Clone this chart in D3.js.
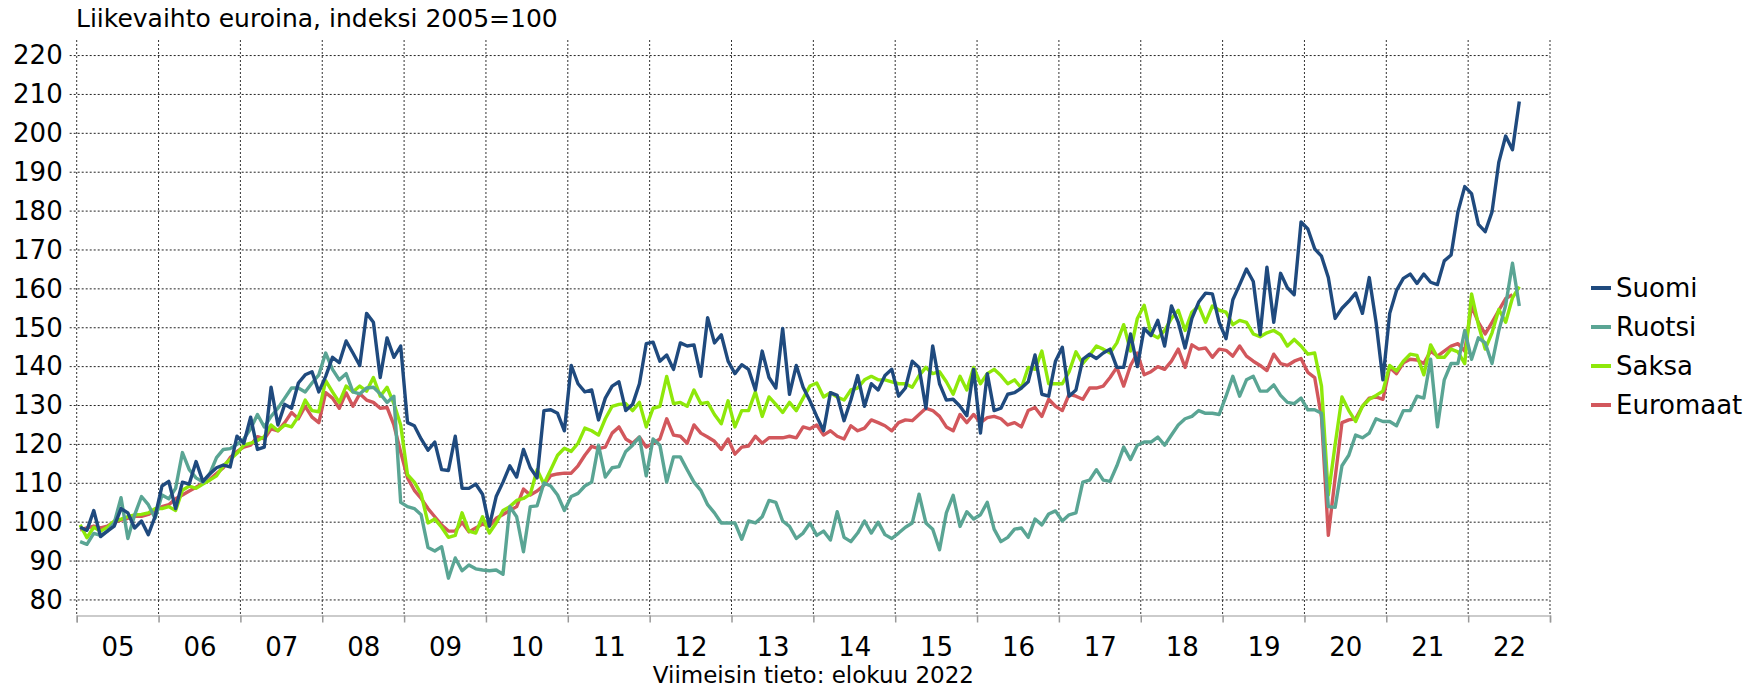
<!DOCTYPE html>
<html>
<head>
<meta charset="utf-8">
<script src="https://cdn.jsdelivr.net/npm/d3@7"></script>
<style>
    body { margin: 0; background: #fff; }
    svg text { font-family: "DejaVu Sans", Verdana, sans-serif; fill: #000; }
</style>
</head>
<body>
<svg id="chart" width="1754" height="688"></svg>
<script>
    // Monthly index values, Jan 2005 onwards (one row per year)
    var yearLabels = ["05","06","07","08","09","10","11","12","13","14","15","16","17","18","19","20","21","22"];
    var yTicks = [80,90,100,110,120,130,140,150,160,170,180,190,200,210,220];
    var seriesNames = ["Suomi","Ruotsi","Saksa","Euromaat"];

    var suomi = [
        98.7,97.9,103,96.3,97.7,99,103.5,102.4,98.5,100.3,96.8,101.5,
        109.3,110.5,103.5,110.3,109.8,115.6,110.5,112.4,114,114.7,114.2,122.1,
        120.3,127,118.7,119.3,134.7,125,130.3,129.3,135.8,137.9,138.7,133.5,
        137.5,142.4,141,146.6,143.5,140.3,153.7,151.4,137.2,147.4,142.4,145.3,
        125.6,124.8,121.4,118.5,120.6,113.5,113.3,122.1,108.7,108.7,109.8,107.2,
        99,106.6,110.3,114.5,111.6,118.7,114,111.4,128.7,128.9,128,123.5,
        140.3,135.6,133.5,134,126.3,131.9,135,136.1,128.7,130.3,135.6,145.9,
        146.3,141.4,143,139.3,146.1,145.3,145.6,137.5,152.6,146.1,148.2,141.4,
        138.2,140.5,139.3,134,144,137.2,134.5,149.8,132.9,140.3,134.7,131.2,
        127.2,123.5,133.3,132.6,126.1,131.4,137.7,129.8,135.6,134,137.7,139.3,
        132.4,134.5,141.4,139.8,129.3,145.3,135.6,131.4,131.6,129.8,127.4,139.3,
        122.9,138.2,128.7,129.3,132.9,133.3,134.5,136.1,143,132.9,132.4,141.4,
        145,132.4,134,141.9,143.2,142.1,143.5,144.5,139.8,139.8,148.4,140,
        149.8,148,151.9,145.3,155.6,151.4,144.8,152.4,156.6,158.9,158.7,151.4,
        147.2,157.2,161.1,165.1,161.9,148.2,165.6,151.4,164,160.3,158.5,177.2,
        175.4,170.3,168.4,162.9,152.4,155,156.8,158.9,153.7,162.9,151.4,136.6,
        153.7,159.6,162.7,163.8,161.4,163.8,161.7,161.1,167.2,168.7,179.8,186.3,
        184.5,176.6,174.7,179.8,192.6,199.3,195.8,208.2
    ];
    var ruotsi = [
        95,94.3,97.1,96.6,97.7,99.8,106.3,95.8,101.9,106.6,104.5,101,
        107,106,108.7,117.9,113.5,111.4,110.3,112.4,116.6,118.7,118.9,120,
        121.4,124,127.7,124.5,127.2,129.3,131.9,134.5,134.5,133.5,135.8,137.9,
        143.5,139.3,136.6,138.2,133.5,133,134.5,134.7,133,130.8,132.4,105.1,
        104,103.5,101.9,93.5,92.6,93.7,85.6,90.8,87.5,89,88,87.7,
        87.5,87.7,86.6,104,101.4,92.4,104,104.2,110.1,109.3,107,103,
        106.6,107.4,109.3,110.3,119.8,111.6,114,114.3,118.2,119.8,121.9,111.9,
        121.4,119.8,110.3,116.8,116.8,113.5,110.3,108.2,104.5,102.4,99.8,99.8,
        99.8,95.6,100.3,99.8,101.4,105.6,105.1,100.3,98.9,95.8,97.2,99.8,
        96.6,97.7,95.4,102.7,96.1,95,97.2,100.3,97.2,100,96.8,95.8,
        97.2,98.7,99.8,107.2,99.8,98.2,92.9,102.4,106.9,98.9,102.7,100.8,
        101.9,105.1,98.2,95,96.1,98.2,98.5,96.1,100.8,99.3,102.1,102.9,
        100.3,101.9,102.4,110.3,110.8,113.5,110.8,110.5,114.5,119.3,116.1,119.8,
        120.6,120.6,121.9,119.8,122.4,125,126.6,127.2,128.7,128,128,127.7,
        132.4,137.5,132.4,136.6,137.5,133.7,133.7,135.3,132.6,130.8,130.5,131.9,
        128.9,128.9,128,104,103.8,114.5,117.2,122.4,121.7,122.9,126.6,125.9,
        125.9,124.8,128.7,128.7,132.4,131.9,141.9,124.5,136.6,140.8,140.8,149.3,
        141.9,147.4,146.1,140.8,149.3,155.8,166.6,155.6
    ];
    var saksa = [
        99.3,96,98.7,97.7,98.7,100.3,100.8,101.4,101.9,102,102.4,103.5,
        103.5,104,103,108.2,109.3,108.7,109.8,110.8,111.9,114.5,116.1,117.7,
        119.8,120.3,121,122,125,123.5,125,124.5,127.2,131.4,128.7,128.4,
        136.4,133.5,130.8,135,133.5,135,133.7,137.2,132.4,134.7,130.5,125,
        112.2,110.3,107.2,99.8,100.8,98.7,96.1,96.6,102.4,97.7,97.2,101.4,
        97.2,99.8,103,104,105.6,106.1,107.2,113.5,109.8,113.5,117.2,119,
        118.2,120.3,124.2,123.5,122.4,126.6,129.8,130.3,130.5,128.7,130.8,124.5,
        129.3,129.8,137.5,130.5,130.8,129.8,134,130.5,130.8,127.7,125.3,131.2,
        124.5,128.7,128.7,133.5,127.2,132.2,130.3,128.2,130.8,128.7,131.9,135,
        135.8,132.2,133.3,132.2,131.4,134,134.5,136.6,137.5,136.6,136.6,136.1,
        135.6,135.6,134.7,137.7,139.8,138.2,138.7,136.1,132.9,137.5,134,139.8,
        135.6,138.2,139.3,137.7,135.6,136.6,134.5,139.8,139.3,144,135.6,135.6,
        135.6,138.7,143.8,140.8,142.9,145.3,144.5,143.5,146.1,150.8,144,152.4,
        155.8,148.4,147.4,149.3,152.4,154.5,149.3,154,155.6,151.4,155.6,154.5,
        154,150.8,151.9,151.4,148.4,147.7,148.7,149.3,148.2,145.3,147,145.3,
        143.2,143.5,135,107,120,132.2,128.7,125.9,129.8,131.6,132.6,133.7,
        140.3,138.9,141.4,143.2,142.9,137.9,145.6,142.4,142.4,144.5,143.8,140.8,
        158.7,150.8,144.5,148.7,154.7,151.4,157.7,160.6
    ];
    var euromaat = [
        98,98.5,99,98.5,99,100,100.5,101,101.5,101.5,102,103,
        104,104.5,106,107,108,109,110,111,112.5,114,116.6,118.2,
        119.3,119.8,122,121.4,124,123.5,125.6,128.2,126.6,129.8,127,125.6,
        133.3,131.9,129.3,133.3,129.8,133,131.4,130.8,129.3,129.5,125,118,
        111.4,108.2,106.1,103.5,101.4,99.3,97.7,97.7,100,97.5,98.5,99.5,
        99,101,102,103,104,108.5,107,108,109.5,112,112.4,112.6,
        112.6,114.5,117.2,119.5,118.9,119.3,122.9,124.5,121.4,120.3,121.9,119.3,
        120.3,121.4,126.6,122.4,122.1,120.3,125,122.9,121.9,120.8,118.7,121.4,
        117.5,119.3,119.6,122.1,120.3,121.7,121.7,121.7,122.1,121.7,124.5,124,
        125,122.4,123.5,122.1,121.4,124.8,123.5,124.2,126.3,125.6,124.8,123.5,
        125.6,126.3,126.1,127.7,129.3,128.7,127.2,124.5,123.5,127.7,125.6,127.7,
        125.6,126.9,127.2,126.6,125,125.6,124.5,128.7,129.5,127.2,131.6,129.8,
        128.7,132.9,132.4,131.6,134.5,134.5,135,137.2,139.8,135,140.3,143.5,
        137.9,138.7,140,139.3,141.4,144.5,139.8,145.6,144.5,144.8,142.4,144.5,
        144.2,142.7,145.3,142.7,141.4,140.3,139,143.2,140.8,140.3,141.4,142.1,
        138.5,137.2,127,96.6,111.4,125.6,126.3,126.6,129.8,131.9,132.2,131.6,
        139.8,138.2,141,141.9,141.7,140.8,144,142.7,144,145.3,145.9,144,
        155.6,151.4,148.4,151.4,154.5,157.5,158.5
    ];

    var colors = {Suomi: "#1f4a7e", Ruotsi: "#5aa594", Saksa: "#8ee80a", Euromaat: "#d2575c"};
    var values = {Suomi: suomi, Ruotsi: ruotsi, Saksa: saksa, Euromaat: euromaat};

    // Layout
    var margin = {left: 76.7, right: 204, top: 40, bottom: 72.5};
    var width = 1754 - margin.left - margin.right;
    var height = 688 - margin.top - margin.bottom;

    var svg = d3.select("svg#chart").append("g")
        .attr("transform", "translate(" + margin.left + "," + margin.top + ")");

    var x = d3.scaleLinear().domain([0, yearLabels.length * 12]).range([0, width]);
    var y = d3.scaleLinear().domain([76, 224]).range([height, 0]);

    // Title
    d3.select("svg#chart").append("text").attr("x", 76).attr("y", 27)
        .style("font-size", "25px").text("Liikevaihto euroina, indeksi 2005=100");

    // Horizontal grid lines (extend left as tick marks)
    svg.append("g").selectAll("line").data(yTicks).enter().append("line")
        .attr("x1", -7).attr("x2", width)
        .attr("y1", function(d) { return y(d); }).attr("y2", function(d) { return y(d); })
        .attr("stroke", "#222").attr("stroke-width", 1).attr("stroke-dasharray", "2,2");

    // Vertical grid lines at year boundaries
    var yearBounds = d3.range(0, yearLabels.length * 12 + 1, 12);
    svg.append("g").selectAll("line").data(yearBounds).enter().append("line")
        .attr("x1", function(d) { return x(d); }).attr("x2", function(d) { return x(d); })
        .attr("y1", 0).attr("y2", height)
        .attr("stroke", function(d, i) { return i == yearBounds.length - 1 ? "#999" : "#333"; })
        .attr("stroke-width", function(d, i) { return i == yearBounds.length - 1 ? 2 : 1; })
        .attr("stroke-dasharray", "2,2");

    // Y axis labels
    var yAxis = d3.axisLeft(y).tickValues(yTicks).tickSize(0).tickPadding(14);
    var yg = svg.append("g").call(yAxis);
    yg.select(".domain").remove();
    yg.selectAll("text").style("font-size", "26px").attr("fill", "#000");

    // X axis: ticks at year boundaries, labels centred in each year
    var xAxis = d3.axisBottom(x).tickValues(yearBounds).tickSize(7).tickFormat("");
    var xg = svg.append("g").attr("transform", "translate(0," + height + ")").call(xAxis);
    xg.select(".domain").attr("stroke", "#bbb").attr("stroke-width", 1.5);
    xg.selectAll(".tick line").attr("stroke", "#999").attr("stroke-width", 1.5);

    var xLabelAxis = d3.axisBottom(x).tickValues(yearLabels.map(function(d, i) { return i * 12 + 6; }))
        .tickSize(0).tickPadding(22).tickFormat(function(d) { return yearLabels[(d - 6) / 12]; });
    var xl = svg.append("g").attr("transform", "translate(0," + height + ")").call(xLabelAxis);
    xl.select(".domain").remove();
    xl.selectAll("text").style("font-size", "26px").attr("fill", "#000");

    // Footnote
    svg.append("text").attr("x", width / 2).attr("y", height + 67).attr("text-anchor", "middle")
        .style("font-size", "23px").text("Viimeisin tieto: elokuu 2022");

    // Lines (drawn bottom to top)
    var line = d3.line().x(function(d, i) { return x(i + 0.5); }).y(function(d) { return y(d); });
    ["Euromaat", "Saksa", "Ruotsi", "Suomi"].forEach(function(name) {
        svg.append("path").datum(values[name]).attr("fill", "none")
            .attr("stroke", colors[name]).attr("stroke-width", 3.4)
            .attr("stroke-linejoin", "round").attr("d", line);
    });

    // Legend
    var legend = d3.select("svg#chart").append("g").attr("transform", "translate(1591,288)");
    seriesNames.forEach(function(name, i) {
        legend.append("line").attr("x1", 0).attr("x2", 20).attr("y1", i * 39).attr("y2", i * 39)
            .attr("stroke", colors[name]).attr("stroke-width", 4);
        legend.append("text").attr("x", 25).attr("y", i * 39).attr("dy", "0.36em")
            .style("font-size", "26px").text(name);
    });
</script>
</body>
</html>
